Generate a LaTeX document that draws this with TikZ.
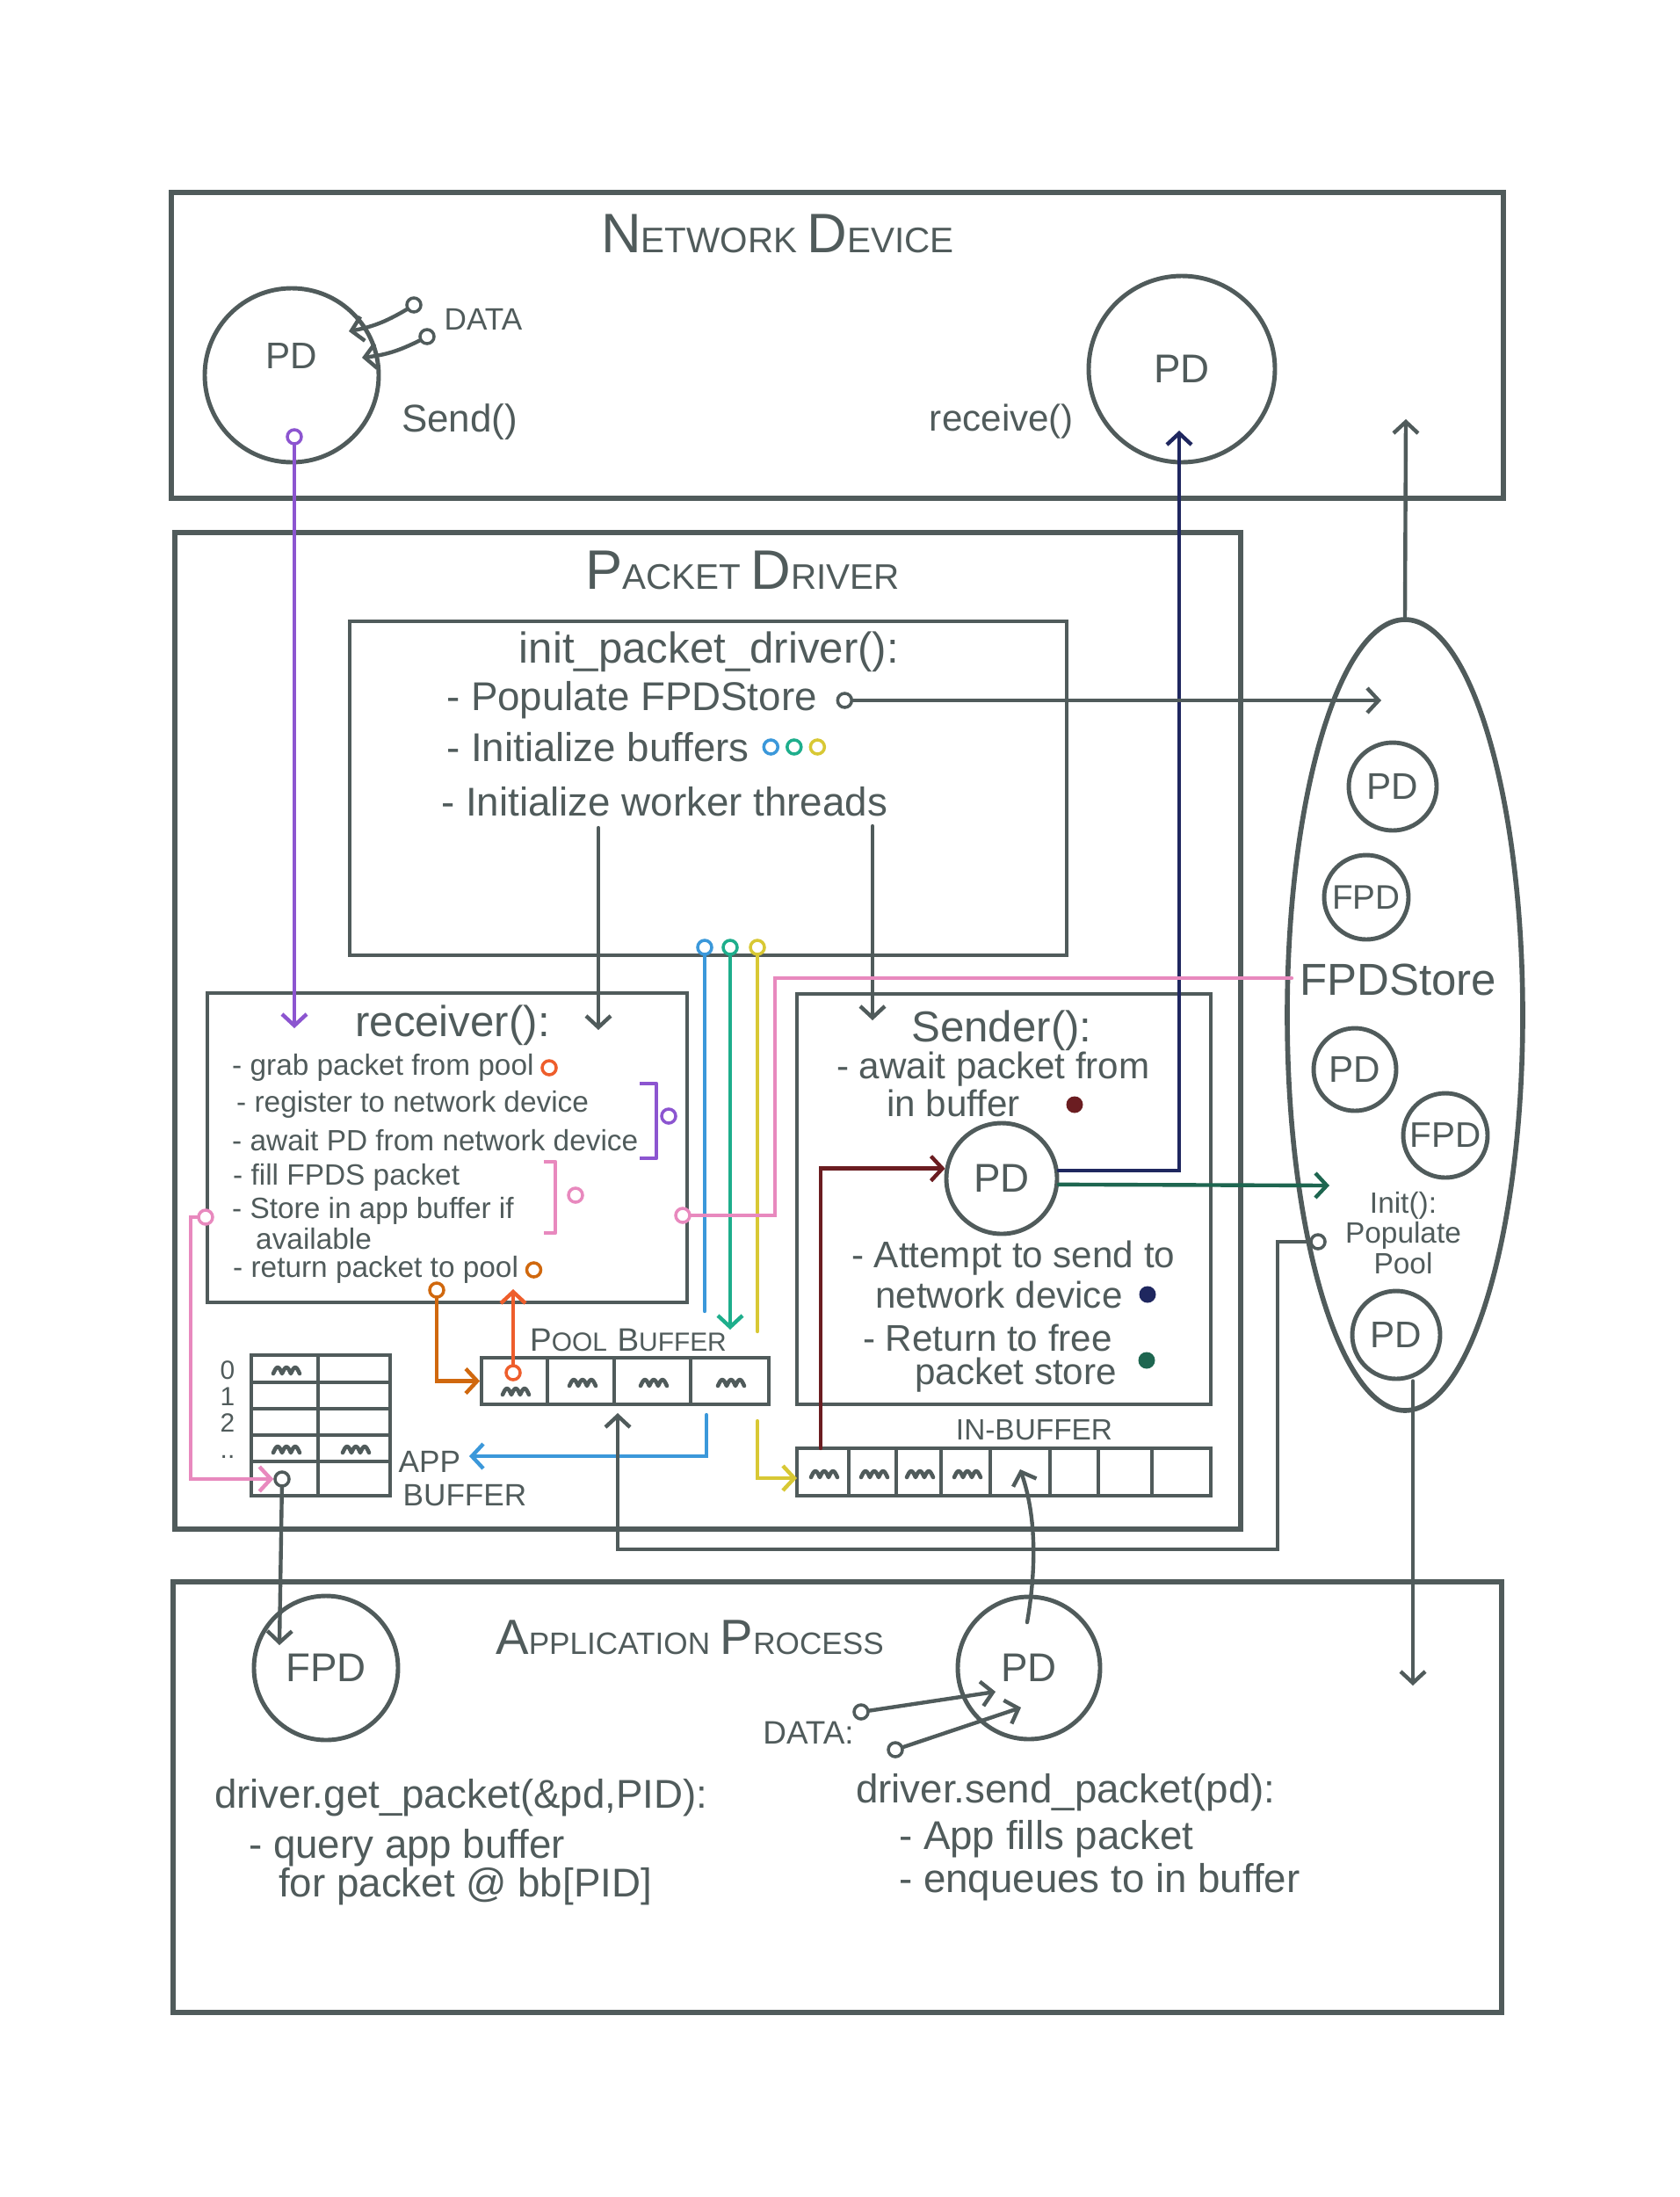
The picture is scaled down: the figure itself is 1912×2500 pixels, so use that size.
\documentclass[tikz,border=0pt]{standalone}
\usepackage{fontspec}
\setmainfont{Liberation Sans}
\usetikzlibrary{arrows.meta,positioning,shapes.geometric}

\definecolor{ink}{HTML}{505B5B}
\definecolor{cpurple}{HTML}{8C55D0}
\definecolor{cblue}{HTML}{3B98DA}
\definecolor{cgreen}{HTML}{1EAE8C}
\definecolor{cyellow}{HTML}{D8C834}
\definecolor{cpink}{HTML}{E889BE}
\definecolor{cred}{HTML}{EE5E2C}
\definecolor{corange}{HTML}{D0680E}
\definecolor{cmaroon}{HTML}{6B1D21}
\definecolor{cnavy}{HTML}{1F275F}
\definecolor{cteal}{HTML}{1E6650}

\providecommand{\hd}[2]{{\fontsize{18}{18}\selectfont #1}{\fontsize{11.5}{12}\selectfont #2}}
\providecommand{\hdapp}[2]{{\fontsize{16}{16}\selectfont #1}{\fontsize{10}{10}\selectfont #2}}
\providecommand{\hdbuf}[2]{{\fontsize{10.5}{10.5}\selectfont #1}{\fontsize{8.5}{8.5}\selectfont #2}}
\providecommand{\squig}[2]{\draw[scrib] (#1,#2) ++(-15,3) sin ++(5,-7) cos ++(5,7) sin ++(5,-7) cos ++(5,7) sin ++(5,-7) cos ++(5,7);}
\tikzset{
  outer/.style ={draw=ink,line width=1.7pt,inner sep=0pt},
  fbox/.style  ={draw=ink,line width=1.4pt,inner sep=0pt},
  buf/.style   ={draw=ink,line width=1.1pt,inner sep=0pt},
  ring/.style  ={circle,draw=ink,line width=1.4pt,inner sep=0pt,font=\fontsize{13}{13}\selectfont},
  port/.style  ={circle,draw=#1,line width=1pt,fill=white,inner sep=0pt,minimum size=1.6mm},
  dot/.style   ={circle,fill=#1,inner sep=0pt,minimum size=1.9mm},
  wire/.style  ={draw=#1,line width=1.25pt,line cap=round,-{Straight Barb[length=1.3mm,width=2.8mm]}},
  lead/.style  ={draw=#1,line width=1.25pt,line cap=round},
  brk/.style   ={draw=#1,line width=1.3pt,line join=round},
  scrib/.style ={draw=ink,line width=1.3pt,line cap=round,line join=round},
  ititle/.style={font=\fontsize{14}{16}\selectfont},
  ibody/.style ={anchor=west,inner sep=1pt,font=\fontsize{13}{15}\selectfont},
  rbody/.style ={anchor=west,inner sep=1pt,font=\fontsize{9.5}{11}\selectfont},
  sbody/.style ={anchor=west,inner sep=1pt,font=\fontsize{12}{14}\selectfont},
  abody/.style ={anchor=west,inner sep=1pt,font=\fontsize{13}{15}\selectfont},
  tag/.style   ={inner sep=0pt,align=center,font=\fontsize{8.5}{8.54}\selectfont},
}

\begin{document}
\begin{tikzpicture}[x=0.1mm,y=-0.1mm,font=\fontsize{12}{14}\selectfont,text=ink]
  \useasboundingbox[fill=white] (0,0) rectangle (1912,2500);

  % ---------- outer boxes ----------
  \node[outer,minimum width=151.6mm,minimum height=34.8mm] (netdev) at (953,393) {};
  \node[outer,minimum width=121.3mm,minimum height=113.4mm] (pdrv) at (805.5,1173) {};
  \node[outer,minimum width=151.2mm,minimum height=49mm] (appproc) at (953,2045) {};

  \node (netdevt) at (885,266) {\hd{N}{ETWORK} \hd{D}{EVICE}};
  \node (pdrvt) at (845,649) {\hd{P}{ACKET} \hd{D}{RIVER}};
  \node (appproct) at (785,1863) {\hdapp{A}{PPLICATION} \hdapp{P}{ROCESS}};

  % ---------- network device ----------
  \node[ring,minimum size=19.8mm,label={[yshift=2.2mm]center:PD}] (ndpd1) at (332,427) {};
  \node[ring,minimum size=21.2mm] (ndpd2) at (1345,420) {PD};
  \node (sendt) at (523,480) {\fontsize{12.5}{14}\selectfont Send()};
  \node (recvt) at (1140,480) {receive()};
  \node (datat) at (550,363) {\fontsize{10}{12}\selectfont DATA};
  \node[port=ink] (d1) at (471,347) {};
  \node[port=ink] (d2) at (486,383) {};
  \coordinate (d1e) at (397,377);
  \coordinate (d2e) at (412,407);
  \draw[wire=ink] (d1) to[bend left=10] (d1e);
  \draw[wire=ink] (d2) to[bend left=10] (d2e);
  \node[port=cpurple] (pp) at (335,497) {};

  % ---------- init_packet_driver ----------
  \node[fbox,minimum width=81.6mm,minimum height=38mm] (initb) at (806,897) {};
  \node[ititle] (initt) at (807,742) {init\_packet\_driver():};
  \node[ibody] (i1) at (504,797) {- Populate FPDStore};
  \node[port=ink,right=5pt of i1] (popport) {};
  \node[ibody] (i2) at (504,850) {- Initialize buffers};
  \node[port=cblue,right=3pt of i2] (ib1) {};
  \node[port=cgreen,right=2pt of ib1] (ib2) {};
  \node[port=cyellow,right=2pt of ib2] (ib3) {};
  \node[ibody] (i3) at (498,912) {- Initialize worker threads};
  \node[port=cblue] (bport) at (802,1078) {};
  \node[port=cgreen] (gport) at (831,1078) {};
  \node[port=cyellow] (yport) at (862,1078) {};

  % ---------- receiver ----------
  \node[fbox,minimum width=54.6mm,minimum height=35.2mm] (rcv) at (509,1306) {};
  \node[ititle] (rcvt) at (515,1167) {receiver():};
  \node[rbody] (r1) at (260,1215) {- grab packet from pool};
  \node[port=cred,right=1pt of r1] (r1m) {};
  \node[rbody] (r2) at (265,1257) {- register to network device};
  \node[rbody] (r3) at (260,1298) {- await PD from network device};
  \node[rbody] (r4) at (261,1340) {- fill FPDS packet};
  \node[rbody] (r5) at (260,1378) {- Store in app buffer if};
  \node[rbody] (r6) at (287,1410) {available};
  \node[rbody] (r7) at (261,1445) {- return packet to pool};
  \node[port=corange,right=1pt of r7] (r7m) {};
  \draw[brk=cpurple] (728,1233) -- (747,1233) -- (747,1318) -- (728,1318);
  \node[port=cpurple] (rpm) at (761,1270) {};
  \draw[brk=cpink] (619,1322) -- (632,1322) -- (632,1403) -- (619,1403);
  \node[port=cpink] (rkm) at (655,1360) {};
  \node[port=cpink] (pkl) at (234,1385) {};
  \node[port=cpink] (pkr) at (777,1383) {};
  \node[port=corange] (doport) at (497,1468) {};

  % ---------- sender ----------
  \node[fbox,minimum width=47.1mm,minimum height=46.7mm] (snd) at (1142.5,1364.5) {};
  \node[ititle] (sndt) at (1140,1173) {Sender():};
  \node[sbody] (s1) at (948,1217) {- await packet from};
  \node[sbody] (s2) at (1005,1255) {in buffer};
  \node[dot=cmaroon] (s2m) at (1223,1257) {};
  \node[ring,minimum size=12.6mm] (sndpd) at (1140,1341) {PD};
  \node[sbody] (s3) at (965,1432) {- Attempt to send to};
  \node[sbody] (s4) at (992,1473) {network device};
  \node[dot=cnavy,right=4pt of s4] (s4m) {};
  \node[sbody] (s5) at (978,1522) {- Return to free};
  \node[sbody] (s6) at (1037,1565) {packet store};
  \node[dot=cteal] (s6m) at (1305,1548) {};

  % ---------- buffers ----------
  \node[buf,minimum width=32.7mm,minimum height=5.3mm] (pool) at (711.5,1571.5) {};
  \foreach \x in {623,699,786} \draw[buf] (\x,1545) -- (\x,1598);
  \node (poolt) at (715,1525) {\hdbuf{P}{OOL} \hdbuf{B}{UFFER}};
  \squig{587}{1584} \squig{663}{1574} \squig{744}{1574} \squig{832}{1574}
  \node[port=cred] (poolport) at (584,1562) {};

  \node[buf,minimum width=47.1mm,minimum height=5.4mm] (inbuf) at (1142.5,1675) {};
  \foreach \x in {966,1020,1071,1127,1195,1250,1311} \draw[buf] (\x,1648) -- (\x,1702);
  \node (inbuft) at (1177,1627) {\fontsize{9.5}{10}\selectfont IN-BUFFER};
  \squig{938}{1678} \squig{995}{1678} \squig{1047}{1678} \squig{1101}{1678}

  \node[buf,minimum width=15.8mm,minimum height=16mm] (appbuf) at (365,1622) {};
  \foreach \y in {1573,1603,1633,1663} \draw[buf] (286,\y) -- (444,\y);
  \draw[buf] (362,1542) -- (362,1702);
  \node[tag,anchor=north] (rows) at (259,1548) {0\\1\\2\\..};
  \squig{326}{1560} \squig{326}{1650} \squig{405}{1650}
  \node[port=ink] (abport) at (321,1683) {};
  \node[anchor=west,inner sep=0pt] (appbt) at (453,1663) {\fontsize{10}{10}\selectfont APP};
  \node[anchor=west,inner sep=0pt] (appbt2) at (458,1702) {\fontsize{10}{10}\selectfont BUFFER};

  % ---------- FPDStore ----------
  \node[ellipse,draw=ink,line width=1.6pt,minimum width=26.8mm,minimum height=90mm,inner sep=0pt] (store) at (1599,1155) {};
  \node[ring,minimum size=10mm,font=\fontsize{12}{12}\selectfont] (st1) at (1585,895) {PD};
  \node[ring,minimum size=9.6mm,font=\fontsize{11}{11}\selectfont] (st2) at (1555,1021) {FPD};
  \node (storet) at (1591,1115) {\fontsize{14.5}{16}\selectfont FPDStore};
  \node[ring,minimum size=9.4mm,font=\fontsize{12}{12}\selectfont] (st3) at (1542,1217) {PD};
  \node[ring,minimum size=9.6mm,font=\fontsize{11.5}{11.5}\selectfont] (st4) at (1645,1292) {FPD};
  \node[align=center,inner sep=0pt,font=\fontsize{9.5}{8.8}\selectfont] (storeinit) at (1597,1403) {Init():\\Populate\\Pool};
  \node[ring,minimum size=10mm,font=\fontsize{12}{12}\selectfont] (st5) at (1589,1519) {PD};
  \node[port=ink] (sport) at (1500,1413) {};

  % ---------- application process ----------
  \node[ring,minimum size=16.4mm] (apfpd) at (371,1898) {FPD};
  \node[ring,minimum size=16.2mm] (appd) at (1171,1898) {PD};
  \node (adatat) at (920,1972) {\fontsize{10.5}{12}\selectfont DATA:};
  \node[port=ink] (ad1) at (980,1948) {};
  \node[port=ink] (ad2) at (1019,1991) {};
  \coordinate (ad1e) at (1133,1925);
  \coordinate (ad2e) at (1162,1943);
  \draw[wire=ink] (ad1) -- (ad1e);
  \draw[wire=ink] (ad2) -- (ad2e);
  \node[abody] (g1) at (240,2046) {driver.get\_packet(\&pd,PID):};
  \node[abody] (g2) at (279,2103) {- query app buffer};
  \node[abody] (g3) at (313,2147) {for packet @ bb[PID]};
  \node[abody] (p1) at (970,2040) {driver.send\_packet(pd):};
  \node[abody] (p2) at (1019,2093) {- App fills packet};
  \node[abody] (p3) at (1019,2142) {- enqueues to in buffer};

  % ---------- free ends ----------
  \coordinate (ppin) at (335,1170);
  \coordinate (ndin) at (1342,490);
  \coordinate (upend) at (1600,477);
  \coordinate (popend) at (1572,799);
  \coordinate (wt1) at (681,942);   \coordinate (wt1e) at (681,1172);
  \coordinate (wt2) at (993,940);   \coordinate (wt2e) at (993,1161);
  \coordinate (bstop) at (802,1492); \coordinate (bgo) at (804,1610); \coordinate (bend) at (534,1657);
  \coordinate (gend) at (831,1513);
  \coordinate (ystop) at (862,1515); \coordinate (ygo) at (862,1617); \coordinate (yend) at (907,1682);
  \coordinate (pkbend) at (882,1113); \coordinate (pkend) at (1470,1113);
  \coordinate (pkside) at (217,1385);
  \coordinate (orend) at (584,1467);
  \coordinate (fpdin) at (318,1872);
  \coordinate (rt1) at (1454,1763); \coordinate (poolin) at (703,1608);
  \coordinate (mrn) at (934,1648);
  \coordinate (tealend) at (1513,1349);
  \coordinate (dnend) at (1608,1918);
  \coordinate (apsrc) at (1169,1846); \coordinate (ibin) at (1161,1672);

  % ---------- connectors ----------
  \draw[wire=cpurple] (pp) -- (ppin);
  \draw[wire=cnavy] (sndpd.8) -| (ndin);
  \draw[wire=ink] (store.north) -- (upend);
  \draw[wire=ink] (popport) -- (popport -| popend);
  \draw[wire=ink] (wt1) -- (wt1e);
  \draw[wire=ink] (wt2) -- (wt2e);
  \draw[lead=cblue] (bport) -- (bstop);
  \draw[wire=cblue] (bgo) |- (bend);
  \draw[wire=cgreen] (gport) -- (gend);
  \draw[lead=cyellow] (yport) -- (ystop);
  \draw[wire=cyellow] (ygo) |- (yend);
  \draw[lead=cpink] (pkr) -| (pkbend) -- (pkend);
  \draw[wire=cpink] (pkl) -- (pkside) |- (abport);
  \draw[wire=corange] (doport) |- (pool.west);
  \draw[wire=cred] (poolport) -- (orend);
  \draw[wire=ink] (abport) -- (fpdin);
  \draw[wire=ink] (sport) -| (rt1) -| (poolin);
  \draw[wire=cmaroon] (mrn) |- (sndpd.170);
  \draw[wire=cteal] (sndpd.-6) -- (tealend);
  \draw[wire=ink] (st5.south -| dnend) -- (dnend);
  \draw[wire=ink] (apsrc) .. controls (1182,1770) and (1176,1715) .. (ibin);

\end{tikzpicture}
\end{document}
